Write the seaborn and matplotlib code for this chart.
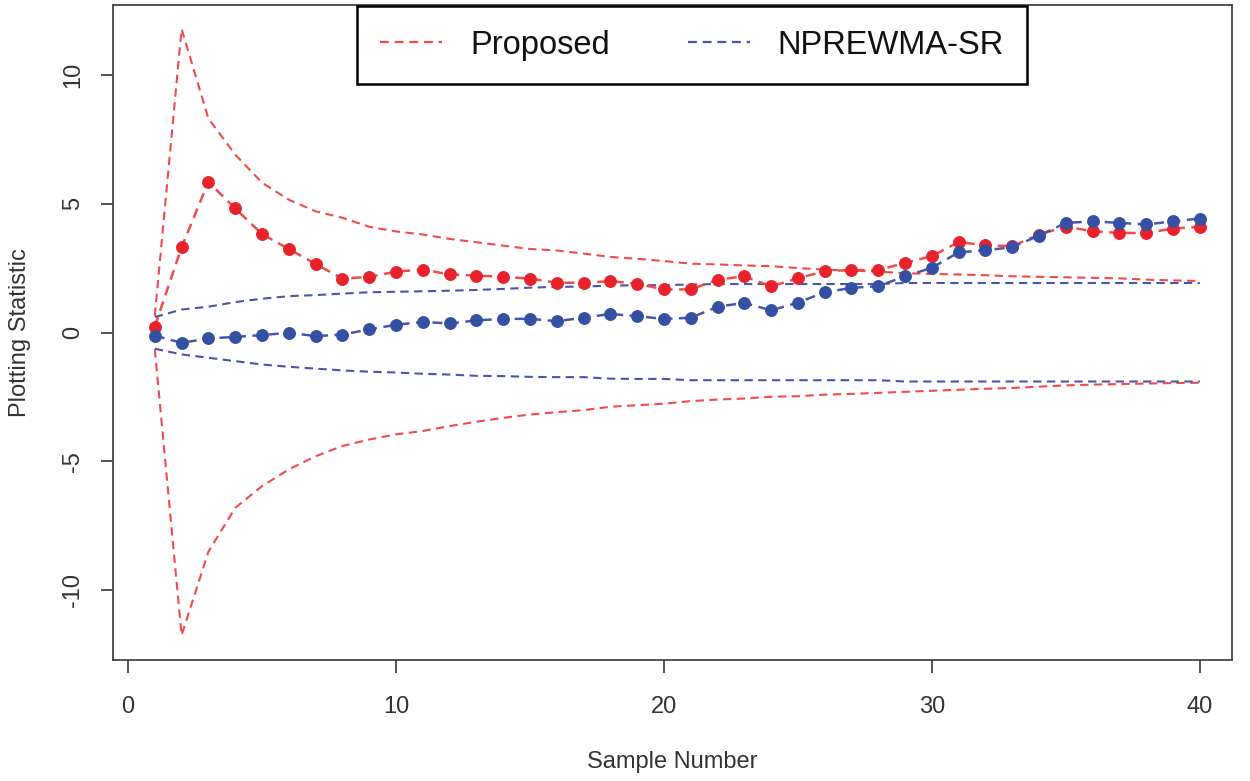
import matplotlib
matplotlib.use("Agg")
import matplotlib.pyplot as plt
from matplotlib.lines import Line2D
import seaborn as sns
import pandas as pd

# sample numbers
samples = list(range(1, 41))

# plotting statistics
proposed_stat = [0.23, 3.31, 5.84, 4.81, 3.82, 3.24, 2.66, 2.09, 2.16, 2.36,
                 2.44, 2.25, 2.21, 2.16, 2.09, 1.93, 1.93, 1.99, 1.89, 1.67,
                 1.67, 2.05, 2.18, 1.79, 2.10, 2.38, 2.42, 2.42, 2.70, 2.96,
                 3.51, 3.38, 3.35, 3.80, 4.10, 3.93, 3.86, 3.86, 4.03, 4.10]
nprewma_stat = [-0.12, -0.40, -0.23, -0.17, -0.10, -0.01, -0.14, -0.08, 0.12, 0.30,
                0.41, 0.35, 0.47, 0.53, 0.53, 0.44, 0.57, 0.72, 0.63, 0.53,
                0.57, 1.00, 1.15, 0.86, 1.16, 1.56, 1.73, 1.80, 2.18, 2.51,
                3.11, 3.19, 3.31, 3.76, 4.25, 4.31, 4.25, 4.19, 4.31, 4.42]

# control limits
proposed_ucl = [0.65, 11.77, 8.30, 6.90, 5.81, 5.15, 4.70, 4.45, 4.10, 3.92,
                3.80, 3.63, 3.50, 3.37, 3.24, 3.18, 3.06, 2.93, 2.86, 2.77,
                2.67, 2.64, 2.60, 2.57, 2.50, 2.44, 2.40, 2.36, 2.30, 2.27,
                2.25, 2.22, 2.18, 2.16, 2.14, 2.12, 2.10, 2.05, 2.02, 2.00]
proposed_lcl = [-0.65, -11.74, -8.50, -6.80, -5.96, -5.31, -4.80, -4.40, -4.15, -3.95,
                -3.82, -3.63, -3.46, -3.31, -3.18, -3.09, -3.01, -2.88, -2.82, -2.76,
                -2.66, -2.60, -2.56, -2.49, -2.47, -2.41, -2.38, -2.34, -2.30, -2.26,
                -2.22, -2.18, -2.15, -2.10, -2.05, -2.02, -2.00, -1.98, -1.96, -1.95]
nprewma_ucl = [0.60, 0.89, 1.00, 1.18, 1.31, 1.41, 1.45, 1.51, 1.56, 1.58,
               1.60, 1.62, 1.65, 1.69, 1.74, 1.77, 1.78, 1.82, 1.83, 1.84,
               1.86, 1.88, 1.88, 1.88, 1.88, 1.88, 1.88, 1.88, 1.92, 1.92,
               1.92, 1.92, 1.92, 1.92, 1.92, 1.92, 1.92, 1.92, 1.92, 1.92]
nprewma_lcl = [-0.63, -0.85, -0.98, -1.11, -1.24, -1.33, -1.40, -1.47, -1.52, -1.55,
               -1.60, -1.63, -1.68, -1.69, -1.72, -1.73, -1.73, -1.79, -1.80, -1.80,
               -1.85, -1.85, -1.85, -1.85, -1.85, -1.85, -1.85, -1.85, -1.90, -1.90,
               -1.90, -1.90, -1.90, -1.90, -1.90, -1.90, -1.90, -1.90, -1.90, -1.90]

x_ticks = [0, 10, 20, 30, 40]
y_ticks = [-10, -5, 0, 5, 10]
legend_labels = ["Proposed", "NPREWMA-SR"]

df = pd.DataFrame({"sample": samples,
                   "proposed": proposed_stat, "nprewma": nprewma_stat,
                   "p_ucl": proposed_ucl, "p_lcl": proposed_lcl,
                   "n_ucl": nprewma_ucl, "n_lcl": nprewma_lcl})

sns.set_style("ticks")
plt.rcParams["font.family"] = ["Liberation Sans", "DejaVu Sans"]
plt.rcParams["axes.unicode_minus"] = False

red_pt = "#E8222B"
red_ln = "#F04A4A"
blue_pt = "#3550A2"
blue_ln = "#4A55AA"
dash = (0, (4, 2.6))
text_col = "#333333"
axis_size = 17

fig = plt.figure(figsize=(12.5, 7.81), dpi=100)
ax = fig.add_axes([0.0904, 0.1549, 0.8952, 0.8387])

# control limits
for col, c in [("p_ucl", red_ln), ("p_lcl", red_ln), ("n_ucl", blue_ln), ("n_lcl", blue_ln)]:
    sns.lineplot(data=df, x="sample", y=col, ax=ax, color=c, lw=1.5,
                 linestyle=dash, legend=False)

# plotting statistics
sns.lineplot(data=df, x="sample", y="proposed", ax=ax, color=red_ln, lw=1.8,
             linestyle=dash, marker="o", markersize=8.5, markerfacecolor=red_pt,
             markeredgecolor=red_pt, legend=False)
sns.lineplot(data=df, x="sample", y="nprewma", ax=ax, color=blue_ln, lw=1.8,
             linestyle=dash, marker="o", markersize=8.5, markerfacecolor=blue_pt,
             markeredgecolor=blue_pt, legend=False)

ax.set_xlim(-0.56, 41.2)
ax.set_ylim(-12.7, 12.7)
ax.set_xticks(x_ticks)
ax.set_yticks(y_ticks)

for s in ax.spines.values():
    s.set_visible(True)
    s.set_color("#444444")
    s.set_linewidth(1.3)

ax.tick_params(axis="both", length=9, width=1.3, color="#444444",
               labelcolor=text_col, labelsize=axis_size)
ax.tick_params(axis="x", pad=17)
ax.tick_params(axis="y", pad=12)
for lab in ax.get_yticklabels():
    lab.set_rotation(90)
    lab.set_va("center")

ax.set_xlabel("Sample Number", fontsize=axis_size, color=text_col, labelpad=24)
ax.set_ylabel("Plotting Statistic", fontsize=axis_size, color=text_col, labelpad=22)

handles = [Line2D([], [], color=red_ln, lw=1.6, linestyle=dash),
           Line2D([], [], color=blue_ln, lw=1.6, linestyle=dash)]
leg = ax.legend(handles, legend_labels, ncol=2, loc="lower left",
                bbox_to_anchor=(0.218, 0.879, 0.599, 0.121), mode="expand",
                fontsize=23.5, frameon=True, fancybox=False, framealpha=1,
                edgecolor="black", borderpad=0.72, handlelength=1.9,
                handletextpad=0.85, columnspacing=3.2, borderaxespad=0)
leg.get_frame().set_linewidth(1.8)
for t in leg.get_texts():
    t.set_color("#111111")

fig.savefig("out.png", dpi=100)
